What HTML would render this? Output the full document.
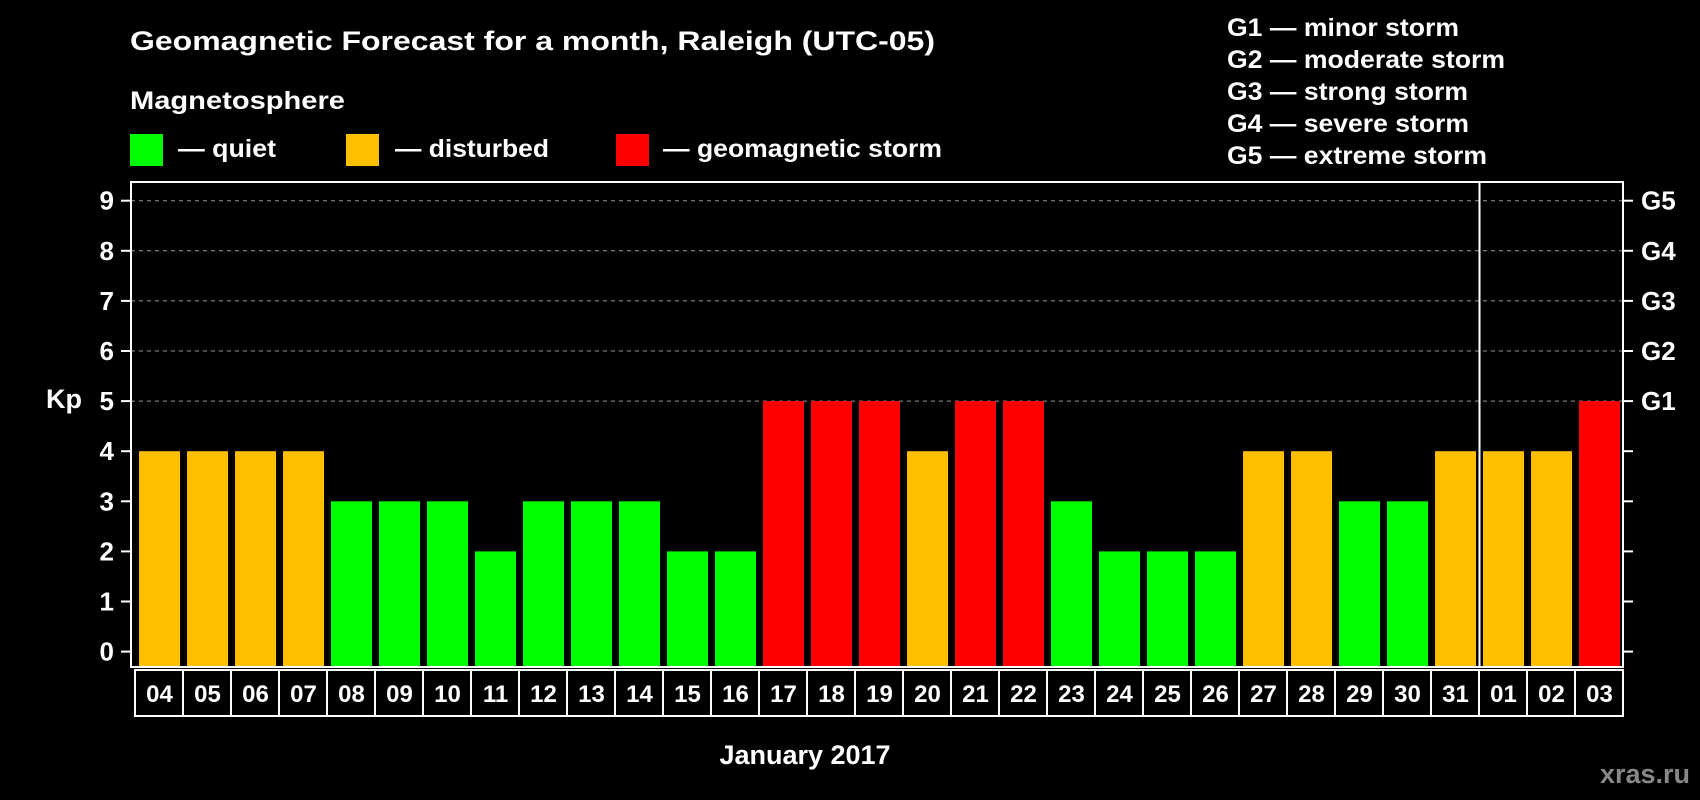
<!DOCTYPE html>
<html><head><meta charset="utf-8"><style>
html,body{margin:0;padding:0;background:#000;}
svg{display:block;font-family:"Liberation Sans",Arial,sans-serif;font-weight:bold;}
</style></head><body>
<svg id="chart" width="1700" height="800" viewBox="0 0 1700 800" xmlns="http://www.w3.org/2000/svg">
<rect x="0" y="0" width="1700" height="800" fill="#000"/>
<text x="130" y="50" fill="#fff" font-size="27" textLength="805" lengthAdjust="spacingAndGlyphs">Geomagnetic Forecast for a month, Raleigh (UTC-05)</text>
<text x="130" y="109" fill="#fff" font-size="25" textLength="215" lengthAdjust="spacingAndGlyphs">Magnetosphere</text>
<g><rect x="130" y="134" width="33" height="32" fill="#00ff00"/><text x="178" y="157" fill="#fff" font-size="25" textLength="98" lengthAdjust="spacingAndGlyphs">— quiet</text></g>
<g><rect x="346" y="134" width="33" height="32" fill="#ffc000"/><text x="395" y="157" fill="#fff" font-size="25" textLength="154" lengthAdjust="spacingAndGlyphs">— disturbed</text></g>
<g><rect x="616" y="134" width="33" height="32" fill="#ff0000"/><text x="663" y="157" fill="#fff" font-size="25" textLength="279" lengthAdjust="spacingAndGlyphs">— geomagnetic storm</text></g>
<g fill="#fff" font-size="25">
<text x="1227" y="36" textLength="232" lengthAdjust="spacingAndGlyphs">G1 — minor storm</text>
<text x="1227" y="68" textLength="278" lengthAdjust="spacingAndGlyphs">G2 — moderate storm</text>
<text x="1227" y="100" textLength="241" lengthAdjust="spacingAndGlyphs">G3 — strong storm</text>
<text x="1227" y="132" textLength="242" lengthAdjust="spacingAndGlyphs">G4 — severe storm</text>
<text x="1227" y="164" textLength="260" lengthAdjust="spacingAndGlyphs">G5 — extreme storm</text>
</g>
<text x="64" y="408" fill="#fff" font-size="27" text-anchor="middle">Kp</text>
<text x="805" y="764" fill="#fff" font-size="27" text-anchor="middle">January 2017</text>
<text x="1690" y="783" fill="#888" font-size="27" text-anchor="end">xras.ru</text>
<g id="grid"></g><g id="bars"></g><g id="axes"></g><g id="labels"></g>
</svg>
<script>
const categories = ["04","05","06","07","08","09","10","11","12","13","14","15","16","17","18","19","20","21","22","23","24","25","26","27","28","29","30","31","01","02","03"];
const kpValues = [4,4,4,4,3,3,3,2,3,3,3,2,2,5,5,5,4,5,5,3,2,2,2,4,4,3,3,4,4,4,5];
const yTicks = [0,1,2,3,4,5,6,7,8,9];
const gLabels = ["G1","G2","G3","G4","G5"];
const monthBreakIndex = 28;

const NS = "http://www.w3.org/2000/svg";
const L = 131, R = 1623, T = 182, B = 667;
const x0 = 139, step = 48, bw = 41;
function yScale(v){ return 651.6 - v * 50.1; }
function xScale(i){ return x0 + i * step; }
function colorFor(v){ return v >= 5 ? "#ff0000" : (v >= 4 ? "#ffc000" : "#00ff00"); }
function mk(tag, attrs, parent){ const e = document.createElementNS(NS, tag); for (const k in attrs) e.setAttribute(k, attrs[k]); parent.appendChild(e); return e; }

const grid = document.getElementById("grid"), bars = document.getElementById("bars"), axes = document.getElementById("axes"), labels = document.getElementById("labels");

yTicks.forEach(v => {
  const y = yScale(v);
  if (v >= 5) {
    const gl = mk("line", {x1:L, x2:R, y1:y, y2:y, stroke:"#999", "stroke-width":1, "stroke-dasharray":"4,4"}, grid);
    
    
  }
  const tl = mk("line", {x1:L-10, x2:L, y1:y, y2:y, stroke:"#fff", "stroke-width":2}, axes);
  
  
  const tr = mk("line", {x1:R, x2:R+10, y1:y, y2:y, stroke:"#fff", "stroke-width":2}, axes);
  
  
  const t = mk("text", {x:114, y:y+9, fill:"#fff", "font-size":26, "text-anchor":"end"}, labels);
  t.textContent = v;
  
  
});
gLabels.forEach((g, i) => {
  const t = mk("text", {x:1641, y:yScale(5+i)+9, fill:"#fff", "font-size":26}, labels);
  t.textContent = g;
  
  
});

kpValues.forEach((v, i) => {
  const x = xScale(i);
  const r = mk("rect", {x:x, y:yScale(v), width:bw, height:B - yScale(v), fill:colorFor(v)}, bars);
  
  
  const c = mk("rect", {x:x-4, y:670, width:step, height:46, fill:"none", stroke:"#fff", "stroke-width":2}, labels);
  
  
  const t = mk("text", {x:x + bw/2, y:702, fill:"#fff", "font-size":24, "text-anchor":"middle"}, labels);
  t.textContent = categories[i];
  
  
});

const frame = mk("rect", {x:L, y:T, width:R-L, height:B-T, fill:"none", stroke:"#fff", "stroke-width":2}, axes);


const sepX = xScale(monthBreakIndex) - 3.5;
const sep = mk("line", {x1:sepX, x2:sepX, y1:T, y2:B, stroke:"#fff", "stroke-width":2}, axes);


</script>
</body></html>
